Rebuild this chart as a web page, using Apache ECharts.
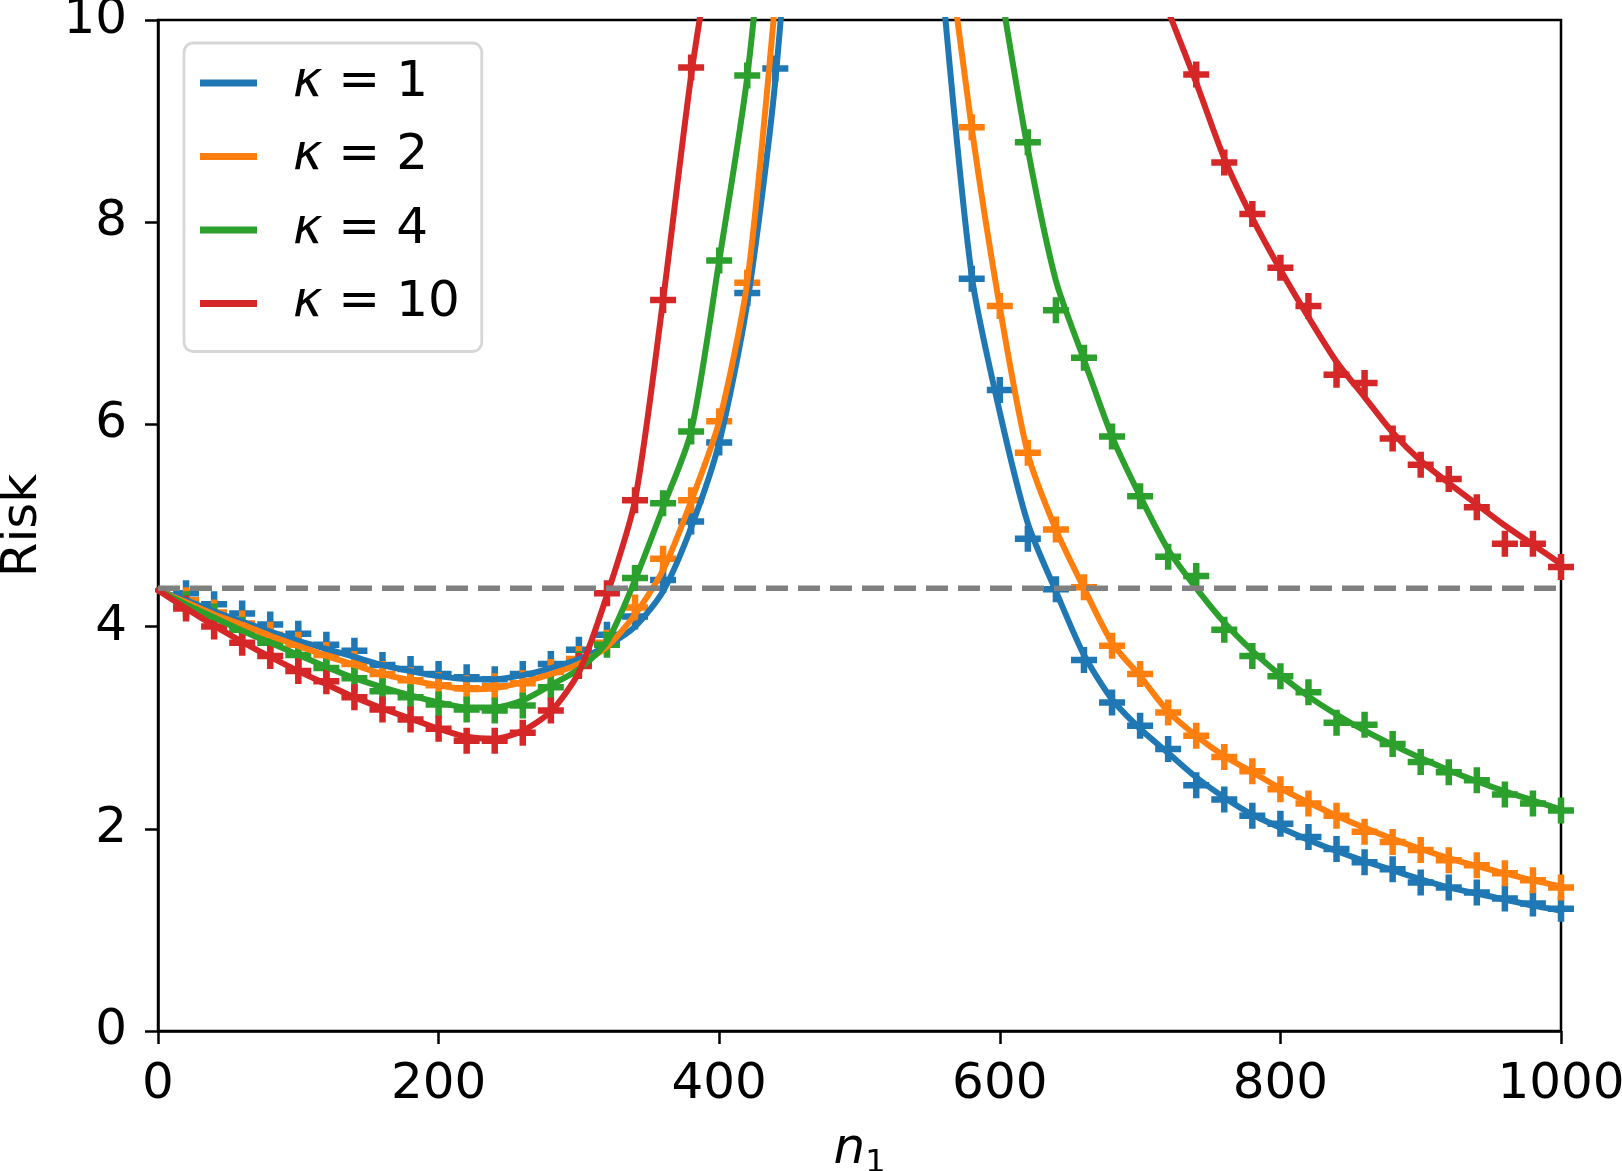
<!DOCTYPE html>
<html>
<head>
<meta charset="utf-8">
<script src="https://cdn.jsdelivr.net/npm/echarts@6/dist/echarts.min.js"></script>
<style>
  html, body { margin: 0; padding: 0; background: #fff; }
  #main { width: 1622px; height: 1171px; }
</style>
</head>
<body>
<div id="main"></div>
<script>
// n1 grid shared by theory curves and simulated points (step 20)
var lineN = [0,20,40,60,80,100,120,140,160,180,200,220,240,260,280,300,320,340,360,380,400,420,440,460,480,500,
  520,540,560,580,600,620,640,660,680,700,720,740,760,780,800,820,840,860,880,900,920,940,960,980,1000];
var markN = lineN.slice(1);

// theory curves (solid lines); null = off the chart
var line1 = [4.36,4.26,4.15,4.05,3.95,3.86,3.78,3.70,3.62,3.56,3.51,3.48,3.48,3.52,3.59,3.68,3.81,4.00,4.35,4.98,5.82,7.20,9.40,13.0,null,null,
  null,null,10.2,7.47,6.12,5.02,4.35,3.72,3.28,2.99,2.75,2.51,2.31,2.14,2.01,1.89,1.78,1.68,1.59,1.50,1.42,1.36,1.30,1.24,1.19];
var line2 = [4.36,4.24,4.12,4.02,3.91,3.81,3.71,3.62,3.53,3.47,3.42,3.38,3.39,3.45,3.53,3.63,3.80,4.12,4.56,5.24,6.03,7.41,10.2,null,null,null,
  null,null,11.07,8.93,7.16,5.71,4.96,4.38,3.84,3.51,3.16,2.92,2.72,2.56,2.40,2.26,2.13,2.01,1.90,1.80,1.71,1.63,1.56,1.49,1.43];
var line4 = [4.36,4.22,4.09,3.96,3.84,3.72,3.60,3.49,3.40,3.32,3.25,3.20,3.20,3.27,3.42,3.58,3.85,4.46,5.18,5.93,7.62,9.44,12.2,null,null,null,
  null,null,null,null,10.35,8.72,7.42,6.64,5.88,5.29,4.76,4.38,4.04,3.76,3.52,3.31,3.13,2.97,2.83,2.70,2.58,2.47,2.37,2.28,2.19];
var line10 = [4.36,4.18,4.01,3.85,3.70,3.56,3.43,3.30,3.19,3.09,2.99,2.91,2.89,2.97,3.16,3.55,4.31,5.25,7.23,9.45,11.2,null,null,null,null,null,
  null,null,null,null,null,null,null,null,null,null,10.09,9.38,8.63,8.04,7.53,7.06,6.62,6.27,5.92,5.64,5.42,5.21,5.00,4.81,4.62];

// simulated points (+ markers) at n1 = 20..1000
var mark1 = [4.33,4.22,4.13,4.02,3.93,3.82,3.76,3.62,3.58,3.53,3.50,3.48,3.53,3.63,3.77,3.92,4.10,4.46,5.04,5.82,7.30,9.52,
  null,null,null,null,null,null,7.44,6.34,4.87,4.37,3.67,3.25,3.02,2.79,2.43,2.29,2.13,2.05,1.92,1.80,1.67,1.60,1.47,1.42,1.37,1.31,1.26,1.21];
var mark2 = [4.26,4.14,4.03,3.92,3.82,3.72,3.63,3.53,3.47,3.42,3.39,3.41,3.44,3.55,3.68,3.84,4.19,4.67,5.25,6.03,7.40,
  null,null,null,null,null,null,null,8.94,7.17,5.72,4.96,4.39,3.81,3.53,3.15,2.92,2.71,2.57,2.39,2.25,2.13,1.97,1.87,1.79,1.69,1.64,1.56,1.49,1.42];
var mark4 = [4.22,4.10,3.97,3.84,3.72,3.59,3.49,3.36,3.30,3.23,3.18,3.17,3.22,3.40,3.63,3.82,4.48,5.22,5.93,7.62,9.45,
  null,null,null,null,null,null,null,null,null,8.79,7.13,6.66,5.88,5.29,4.69,4.50,3.97,3.71,3.51,3.35,3.05,3.03,2.84,2.66,2.56,2.48,2.34,2.25,2.18];
var mark10 = [4.18,4.00,3.84,3.71,3.56,3.46,3.30,3.18,3.08,2.99,2.87,2.87,2.95,3.17,3.61,4.33,5.25,7.23,9.53,
  null,null,null,null,null,null,null,null,null,null,null,null,null,null,null,null,null,9.46,8.59,8.08,7.55,7.17,6.49,6.41,5.86,5.60,5.46,5.18,4.82,4.82,4.59];

var nullRisk = 4.38;   // dashed reference level
var xTicks = { min: 0, max: 1000, step: 200 };
var yTicks = { min: 0, max: 10, step: 2 };

var names = ['κ = 1', 'κ = 2', 'κ = 4', 'κ = 10'];
var colors = ['#1f77b4', '#ff7f0e', '#2ca02c', '#d62728'];
var lines = [line1, line2, line4, line10];
var marks = [mark1, mark2, mark4, mark10];

var plus = 'path://M9,0H15V9H24V15H15V24H9V15H0V9H9Z';
var font = 'DejaVu Sans';

var series = [];
for (var k = 0; k < 4; k++) {
  series.push({
    name: names[k],
    type: 'line',
    data: lineN.map(function (n, i) { return [n, lines[k][i] == null ? '-' : lines[k][i]]; }),
    symbol: 'none',
    smooth: 0.25,
    color: colors[k],
    lineStyle: { color: colors[k], width: 6, join: 'round', cap: 'round' },
    clip: true
  });
  series.push({
    name: names[k],
    type: 'scatter',
    data: markN.map(function (n, i) { return [n, marks[k][i]]; }).filter(function (d) { return d[1] != null; }),
    symbol: plus,
    symbolSize: 26,
    color: colors[k],
    itemStyle: { color: colors[k], opacity: 1 }
  });
}
series.push({
  type: 'line',
  data: [[xTicks.min, nullRisk], [xTicks.max, nullRisk]],
  symbol: 'none',
  lineStyle: { color: '#808080', width: 5.5, type: [22, 10] },
  silent: true
});

var chart = echarts.init(document.getElementById('main'));
chart.setOption({
  animation: false,
  backgroundColor: '#fff',
  textStyle: { fontFamily: font },
  grid: {
    left: 158, right: 61, top: 20, bottom: 140,
    outerBoundsMode: 'none',
    containLabel: false,
    show: true, borderColor: '#000', borderWidth: 2.5, backgroundColor: 'transparent'
  },
  legend: {
    data: names,
    orient: 'vertical',
    left: 184, top: 43,
    icon: 'rect',
    itemWidth: 57, itemHeight: 7,
    itemGap: 23.5,
    padding: [15, 22, 23, 16],
    backgroundColor: '#fff',
    borderColor: '#d6d6d6',
    borderWidth: 2.8,
    borderRadius: 9,
    formatter: function (name) { return '{g|}{i|κ}' + name.slice(1); },
    textStyle: {
      fontFamily: font, fontSize: 50, color: '#000', lineHeight: 50,
      rich: {
        g: { width: 31 },
        i: { fontFamily: font, fontSize: 50, fontStyle: 'italic', lineHeight: 50 }
      }
    }
  },
  xAxis: {
    type: 'value',
    min: xTicks.min, max: xTicks.max, interval: xTicks.step,
    splitLine: { show: false },
    axisLine: { lineStyle: { color: '#000', width: 2.5 } },
    axisTick: { inside: false, length: 13, lineStyle: { color: '#000', width: 2.5 } },
    axisLabel: {
      fontFamily: font, fontSize: 50, color: '#000', margin: 29,
      formatter: function (v) { return String(v); }
    },
    name: '{i|n}{s|1}',
    nameLocation: 'middle',
    nameGap: 94,
    nameTextStyle: {
      fontFamily: font, fontSize: 50, color: '#000',
      rich: {
        i: { fontFamily: font, fontSize: 50, fontStyle: 'italic', lineHeight: 50 },
        s: { fontFamily: font, fontSize: 32, lineHeight: 32, padding: [27, 0, 0, 0] }
      }
    }
  },
  yAxis: {
    type: 'value',
    min: yTicks.min, max: yTicks.max, interval: yTicks.step,
    splitLine: { show: false },
    axisLine: { lineStyle: { color: '#000', width: 2.5 } },
    axisTick: { inside: false, length: 13, lineStyle: { color: '#000', width: 2.5 } },
    axisLabel: { fontFamily: font, fontSize: 50, color: '#000', margin: 31 },
    name: 'Risk',
    nameLocation: 'middle',
    nameRotate: 90,
    nameGap: 110,
    nameTextStyle: { fontFamily: font, fontSize: 50, color: '#000' }
  },
  series: series
});
</script>
</body>
</html>
